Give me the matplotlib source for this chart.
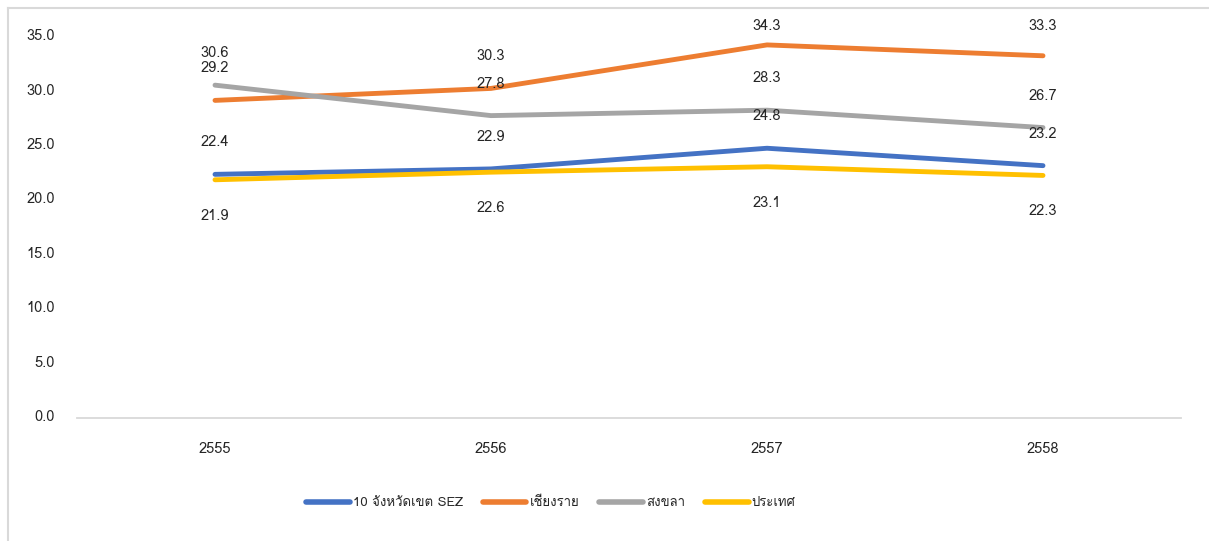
import matplotlib
matplotlib.use("Agg")
import matplotlib.pyplot as plt
from matplotlib.lines import Line2D
from matplotlib.transforms import ScaledTranslation

years = ["2555", "2556", "2557", "2558"]
series_names = ["10 จังหวัดเขต SEZ", "เชียงราย", "สงขลา", "ประเทศ"]
sez = [22.4, 22.9, 24.8, 23.2]
chiang_rai = [29.2, 30.3, 34.3, 33.3]
songkhla = [30.6, 27.8, 28.3, 26.7]
country = [21.9, 22.6, 23.1, 22.3]
y_ticks = [0, 5, 10, 15, 20, 25, 30, 35]

colors = ["#4472C4", "#ED7D31", "#A5A5A5", "#FFC000"]
text_color = "#262626"
frame_color = "#D9D9D9"
FS = 10.5

plt.rcParams["font.family"] = ["Loma", "DejaVu Sans"]

W, H = 1209, 541
fig = plt.figure(figsize=(W / 100, H / 100), dpi=100)
ax = fig.add_axes([77 / W, 1 - 418 / H, (1181 - 77) / W, (418 - 37.3) / H])

x = list(range(len(years)))
all_series = [sez, chiang_rai, songkhla, country]
for vals, col, name in zip(all_series, colors, series_names):
    ax.plot(x, vals, color=col, lw=3.5, solid_capstyle="round", label=name)

ax.set_xlim(-0.5, 3.5)
ax.set_ylim(0, 35)

# value labels: above the point, below for the national line; labels are kept
# inside the chart frame (centre no higher than 26 px from the top)
fig.canvas.draw()
to_px = ax.transData
for vals, below in zip(all_series, [False, False, False, True]):
    for xi, v in zip(x, vals):
        px, py = to_px.transform((xi, v))
        if below:
            ly = py - 36
        else:
            ly = min(py + 32, H - 26.5)
        fig.text(px / W, ly / H, f"{v:.1f}", ha="center", va="center",
                 fontsize=FS, color=text_color)

ax.set_yticks(y_ticks)
ax.set_yticklabels([f"{t:.1f}" for t in y_ticks])
ax.set_xticks(x)
ax.set_xticklabels(years)
ax.tick_params(axis="both", length=0, labelsize=FS, colors=text_color)
ax.tick_params(axis="x", pad=17)
ax.tick_params(axis="y", pad=16)
for lbl in ax.get_yticklabels():
    lbl.set_transform(lbl.get_transform() + ScaledTranslation(0, 2.5 / 100, fig.dpi_scale_trans))
for side in ["top", "right", "left"]:
    ax.spines[side].set_visible(False)
ax.spines["bottom"].set_color(frame_color)
ax.spines["bottom"].set_linewidth(1.3)

LFS = 9.5
handles = [Line2D([0], [0], color=c, lw=4, solid_capstyle="round") for c in colors]
fig.legend(handles, series_names, loc="center",
           bbox_to_anchor=(551 / W, 1 - 503 / H), borderaxespad=0, borderpad=0,
           ncol=4, frameon=False, fontsize=LFS, handlelength=3.3, handletextpad=0.25,
           columnspacing=1.5, labelcolor=text_color)

# chart frame (left and top edges)
fig.add_artist(Line2D([7.5 / W, 7.5 / W], [0, 1 - 7.5 / H], color=frame_color,
                      lw=1.5, transform=fig.transFigure))
fig.add_artist(Line2D([7.5 / W, 1], [1 - 7.5 / H, 1 - 7.5 / H], color=frame_color,
                      lw=1.5, transform=fig.transFigure))

fig.savefig("out.png", dpi=100)
